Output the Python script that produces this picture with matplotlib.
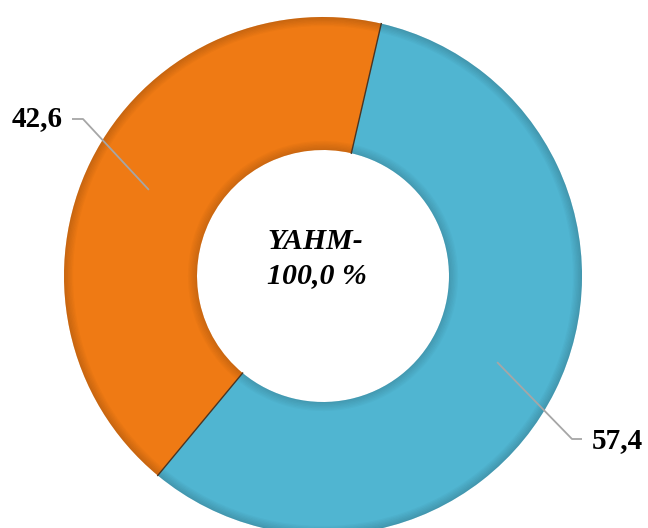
import matplotlib
matplotlib.use("Agg")
import matplotlib.pyplot as plt
import numpy as np
from matplotlib.colors import to_rgb

# ---- data ----
categories = ["A", "B"]
values = [57.4, 42.6]
value_labels = ["57,4", "42,6"]
center_title = "YAHM-"
center_total = "100,0 %"
colors = ["#50B5D1", "#EF7A14"]

W, H = 648, 528
CX, CY, R = 323, 276, 259.0

def px(x, y):
    return ((x - CX) / R, (CY - y) / R)

fig = plt.figure(figsize=(W / 100, H / 100), dpi=100)
ax = fig.add_axes([0, 0, 1, 1])

start = 77
inner = 126 / R
width = 1 - inner

wedges, _ = ax.pie(values, colors=colors, startangle=start, counterclock=False,
                   radius=1, wedgeprops=dict(width=width, linewidth=0),
                   center=(0, 0), frame=True)

def darker(c, f):
    r, g, b = to_rgb(c)
    return (r * f, g * f, b * f)

# bevel: dark rim at outer edge, shade at inner edge
n = 7
for i in range(n):
    rr = 1 - i * 0.005
    ax.pie(values, colors=[darker(c, 0.45) for c in colors], startangle=start,
           counterclock=False, radius=rr,
           wedgeprops=dict(width=0.005, alpha=0.3 * (1 - i / n), linewidth=0),
           center=(0, 0), frame=True)
for i in range(n):
    rr = inner + (i + 1) * 0.005
    ax.pie(values, colors=[darker(c, 0.5) for c in colors], startangle=start,
           counterclock=False, radius=rr,
           wedgeprops=dict(width=0.005, alpha=0.3 * (1 - i / n), linewidth=0),
           center=(0, 0), frame=True)

# dark separators between slices
for w in wedges:
    a = np.deg2rad(w.theta1)
    ax.plot([inner * np.cos(a), np.cos(a)], [inner * np.sin(a), np.sin(a)],
            color="#4a3422", lw=1.0, zorder=4)

ax.set_xlim(px(0, 0)[0], px(W, 0)[0])
ax.set_ylim(px(0, H)[1], px(0, 0)[1])
ax.set_aspect("equal")
ax.axis("off")

# labels with leader lines
label_pos = [(617, 441), (37, 119)]
elbow = [[(572, 439), (582, 439)], [(83, 119), (72, 119)]]
for w, lab, lp, el in zip(wedges, value_labels, label_pos, elbow):
    ang = np.deg2rad((w.theta1 + w.theta2) / 2)
    ax_pt = (0.75 * np.cos(ang), 0.75 * np.sin(ang))
    pts = [ax_pt] + [px(*p) for p in el]
    xs, ys = zip(*pts)
    ax.plot(xs, ys, color="#A6A6A6", lw=1.3, solid_capstyle="butt", zorder=5)
    tx, ty = px(*lp)
    ax.text(tx, ty, lab, ha="center", va="center", fontsize=21, fontweight="bold",
            family="Liberation Serif", color="black", zorder=6)

x0, y0 = px(267, 249)
ax.text(x0, y0, center_title, ha="left", va="baseline", fontsize=21.5, fontweight="bold",
        fontstyle="italic", family="Liberation Serif")
x1, y1 = px(267, 283)
ax.text(x1, y1, center_total, ha="left", va="baseline", fontsize=21.5, fontweight="bold",
        fontstyle="italic", family="Liberation Serif")

fig.savefig("out.png", dpi=100)
